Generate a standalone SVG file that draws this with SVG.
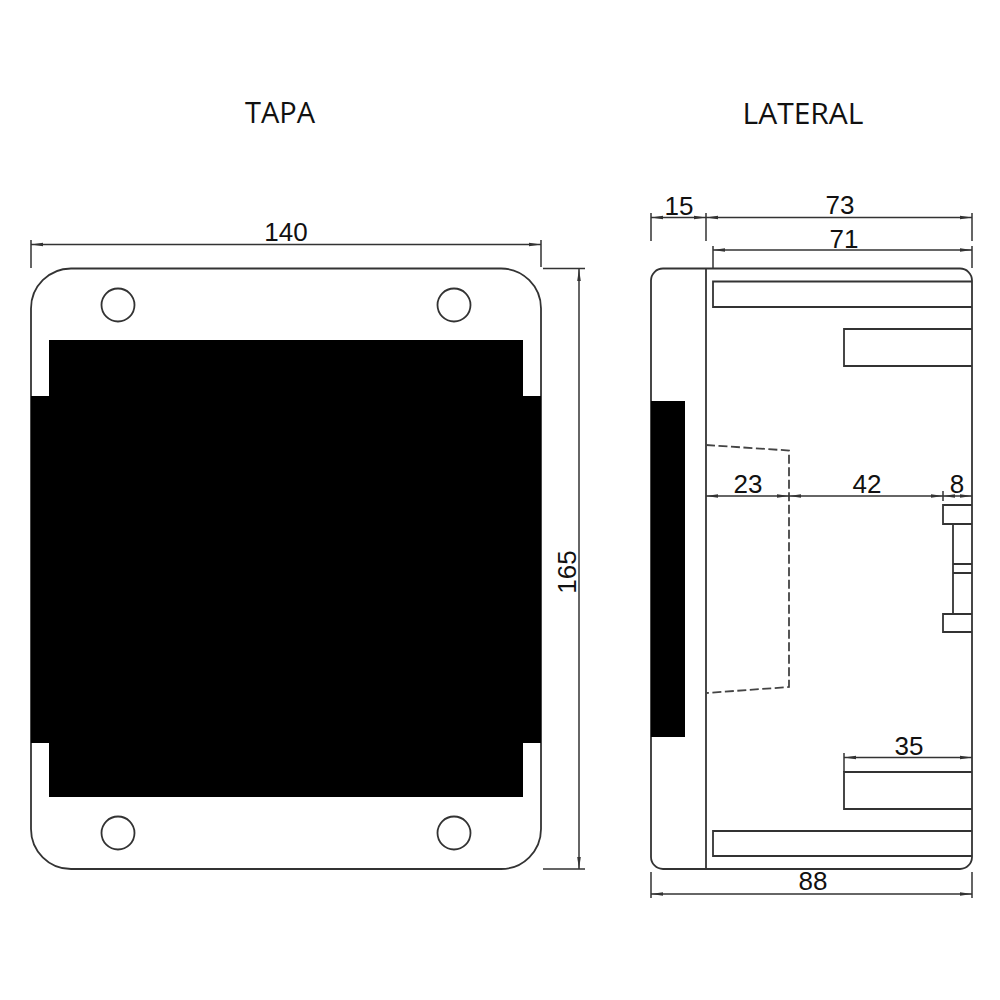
<svg xmlns="http://www.w3.org/2000/svg" width="1000" height="1000" viewBox="0 0 1000 1000">
<style>
.l{fill:none;stroke:#333;stroke-width:1.8}
.t{fill:none;stroke:#333;stroke-width:1.5}
.d{fill:none;stroke:#333;stroke-width:1.5;marker-start:url(#a);marker-end:url(#a)}
.k{fill:#000}
.h{fill:none;stroke:#444;stroke-width:1.8;stroke-dasharray:9 3.5}
text{font-family:"Liberation Sans",Arial,sans-serif;font-size:26px;fill:#111;text-anchor:middle}
.title{font-family:"Open Sans","Noto Sans",sans-serif;font-size:29px}
.wide{font-size:30px}
</style>
<defs>
<marker id="a" viewBox="0 0 12 6" refX="12" refY="3" markerUnits="userSpaceOnUse" markerWidth="12" markerHeight="6" orient="auto-start-reverse"><path d="M0 1.200L12 3L0 4.800Z" fill="#333"/></marker>
</defs>
<rect width="1000" height="1000" fill="#fff"/>
<g id="tapa">
<rect class="l" x="31" y="268.5" width="510" height="600.5" rx="40" ry="40"/>
<path class="k" d="M49 340H523V396H541V743H523V797H49V743H31V396H49Z"/>
<circle class="l" cx="118" cy="305" r="16.5"/>
<circle class="l" cx="454" cy="305" r="16.5"/>
<circle class="l" cx="118" cy="833" r="16.5"/>
<circle class="l" cx="454" cy="833" r="16.5"/>
</g>
<g id="lateral">
<rect class="l" x="651" y="268.5" width="321" height="600.5" rx="12" ry="12"/>
<path class="l" d="M706 268.5V869"/>
<rect class="k" x="651" y="401" width="34" height="336"/>
<path class="l" d="M972 281.500H713V307H972"/>
<path class="l" d="M972 329H844V366H972"/>
<path class="l" d="M972 772H844V809H972"/>
<path class="l" d="M972 831H713V856H972"/>
<path class="h" d="M706 445L789 450.500V687L706 693"/>
<path class="l" d="M972 505H943V524H972M972 614H943V632H972M953 524V614M953 564H972M953 573H972"/>
</g>
<g id="connectors">
<path class="t" d="M31 240V268M541 240V267M543 268.500H585M543 869H585"/>
<path class="d" d="M31 244.500H541"/>
<path class="d" d="M579 269V869"/>
<path class="t" d="M651 213V241M706 213V241M972 213V241M713 246V268M972 246V268"/>
<path class="d" d="M651 217.500H706"/>
<path class="d" d="M706 217.500H972"/>
<path class="d" d="M713 250H972"/>
<path class="d" d="M706 496H789"/>
<path class="d" d="M789 496H943"/>
<path class="d" d="M943 496H972"/>
<path class="t" d="M943 491V501"/>
<path class="t" d="M844 753V772"/>
<path class="d" d="M844 757.500H972"/>
<path class="t" d="M651 872V898M972 872V898"/>
<path class="d" d="M651 894H972"/>
</g>
<g id="labels">
<text class="title" x="280" y="123">TAPA</text>
<text class="title wide" x="803" y="124">LATERAL</text>
<text x="286" y="241">140</text>
<text transform="translate(576 572) rotate(-90)">165</text>
<text x="679" y="215">15</text>
<text x="840" y="214">73</text>
<text x="844" y="248">71</text>
<text x="748" y="493">23</text>
<text x="867" y="493">42</text>
<text x="957" y="493">8</text>
<text x="909" y="755">35</text>
<text x="813" y="890">88</text>
</g>
</svg>
